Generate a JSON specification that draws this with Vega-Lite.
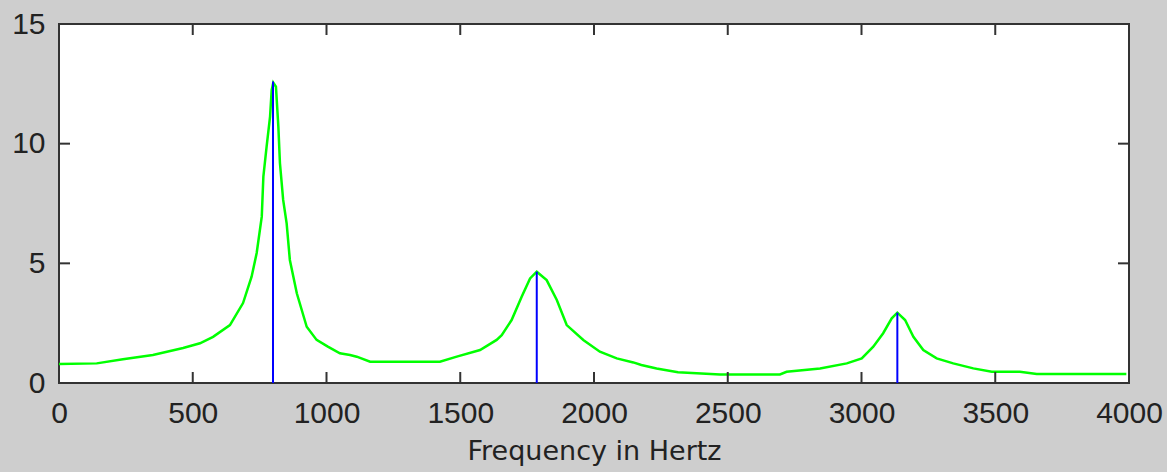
{
  "$schema": "https://vega.github.io/schema/vega-lite/v6.json",
  "width": 1070,
  "height": 359,
  "autosize": {"type": "none"},
  "padding": {"left": 59, "top": 24, "right": 38, "bottom": 89},
  "background": "#cecece",
  "config": {
    "view": {"fill": "white", "stroke": "#333333", "strokeWidth": 2},
    "axis": {
      "domain": false,
      "grid": false,
      "ticks": false,
      "labelFont": "Liberation Sans",
      "labelFontSize": 30,
      "labelColor": "#222222",
      "titleFont": "DejaVu Sans",
      "titleFontSize": 27,
      "titleFontWeight": "normal",
      "titleColor": "#222222"
    }
  },
  "datasets": {
    "curve": [
      {"f": 0, "v": 0.79}, {"f": 141, "v": 0.82}, {"f": 239, "v": 0.99}, {"f": 351, "v": 1.17},
      {"f": 464, "v": 1.46}, {"f": 527, "v": 1.66}, {"f": 576, "v": 1.93}, {"f": 639, "v": 2.42},
      {"f": 688, "v": 3.34}, {"f": 720, "v": 4.44}, {"f": 739, "v": 5.43}, {"f": 758, "v": 6.95},
      {"f": 764, "v": 8.62}, {"f": 776, "v": 9.87}, {"f": 789, "v": 11.13}, {"f": 795, "v": 12.24},
      {"f": 801, "v": 12.55}, {"f": 811, "v": 12.38}, {"f": 820, "v": 10.71}, {"f": 826, "v": 9.18},
      {"f": 838, "v": 7.65}, {"f": 851, "v": 6.67}, {"f": 863, "v": 5.14}, {"f": 889, "v": 3.75},
      {"f": 926, "v": 2.35}, {"f": 963, "v": 1.8}, {"f": 1005, "v": 1.52}, {"f": 1050, "v": 1.24},
      {"f": 1088, "v": 1.17}, {"f": 1113, "v": 1.1}, {"f": 1163, "v": 0.89}, {"f": 1275, "v": 0.89},
      {"f": 1424, "v": 0.89}, {"f": 1487, "v": 1.1}, {"f": 1574, "v": 1.38}, {"f": 1636, "v": 1.8},
      {"f": 1655, "v": 2.0}, {"f": 1692, "v": 2.63}, {"f": 1730, "v": 3.61}, {"f": 1761, "v": 4.37},
      {"f": 1786, "v": 4.65}, {"f": 1823, "v": 4.3}, {"f": 1861, "v": 3.47}, {"f": 1898, "v": 2.42},
      {"f": 1960, "v": 1.8}, {"f": 2022, "v": 1.31}, {"f": 2085, "v": 1.03}, {"f": 2147, "v": 0.86},
      {"f": 2177, "v": 0.75}, {"f": 2234, "v": 0.61}, {"f": 2314, "v": 0.45}, {"f": 2471, "v": 0.36},
      {"f": 2695, "v": 0.36}, {"f": 2720, "v": 0.47}, {"f": 2845, "v": 0.61}, {"f": 2945, "v": 0.82},
      {"f": 3001, "v": 1.03}, {"f": 3044, "v": 1.52}, {"f": 3081, "v": 2.08}, {"f": 3113, "v": 2.7},
      {"f": 3134, "v": 2.94}, {"f": 3163, "v": 2.63}, {"f": 3194, "v": 1.93}, {"f": 3231, "v": 1.38},
      {"f": 3281, "v": 1.03}, {"f": 3343, "v": 0.82}, {"f": 3418, "v": 0.61}, {"f": 3487, "v": 0.47},
      {"f": 3592, "v": 0.47}, {"f": 3655, "v": 0.38}, {"f": 3990, "v": 0.38}
    ],
    "peaks": [
      {"f": 800, "v": 12.6},
      {"f": 1786, "v": 4.65},
      {"f": 3134, "v": 2.94}
    ],
    "xticks": [
      {"t": 500}, {"t": 1000}, {"t": 1500}, {"t": 2000}, {"t": 2500}, {"t": 3000}, {"t": 3500}
    ],
    "yticks": [
      {"t": 5}, {"t": 10}
    ]
  },
  "layer": [
    {
      "data": {"name": "curve"},
      "mark": {"type": "line", "color": "#00ff00", "strokeWidth": 2.5, "clip": true},
      "encoding": {
        "x": {
          "field": "f", "type": "quantitative",
          "scale": {"domain": [0, 4000], "nice": false, "zero": false},
          "axis": {"orient": "bottom", "values": [0, 500, 1000, 1500, 2000, 2500, 3000, 3500, 4000],
                   "format": "d", "labelPadding": 15, "labelFlush": false, "labelOverlap": false,
                   "title": "Frequency in Hertz", "titlePadding": 10}
        },
        "y": {
          "field": "v", "type": "quantitative",
          "scale": {"domain": [0, 15], "nice": false, "zero": false},
          "axis": {"orient": "left", "values": [0, 5, 10, 15], "format": "d", "labelPadding": 14,
                   "labelFlush": false, "labelOverlap": false, "title": null}
        }
      }
    },
    {
      "data": {"name": "peaks"},
      "mark": {"type": "rule", "color": "#0000ff", "strokeWidth": 2},
      "encoding": {
        "x": {"field": "f", "type": "quantitative"},
        "y": {"field": "v", "type": "quantitative"},
        "y2": {"datum": 0}
      }
    },
    {
      "data": {"name": "xticks"},
      "mark": {"type": "tick", "orient": "vertical", "color": "#333333", "size": 22, "thickness": 2, "opacity": 1, "clip": true},
      "encoding": {
        "x": {"field": "t", "type": "quantitative"},
        "y": {"datum": 0, "type": "quantitative"}
      }
    },
    {
      "data": {"name": "xticks"},
      "mark": {"type": "tick", "orient": "vertical", "color": "#333333", "size": 22, "thickness": 2, "opacity": 1, "clip": true},
      "encoding": {
        "x": {"field": "t", "type": "quantitative"},
        "y": {"datum": 15, "type": "quantitative"}
      }
    },
    {
      "data": {"name": "yticks"},
      "mark": {"type": "tick", "orient": "horizontal", "color": "#333333", "size": 22, "thickness": 2, "opacity": 1, "clip": true},
      "encoding": {
        "y": {"field": "t", "type": "quantitative"},
        "x": {"datum": 0, "type": "quantitative"}
      }
    },
    {
      "data": {"name": "yticks"},
      "mark": {"type": "tick", "orient": "horizontal", "color": "#333333", "size": 22, "thickness": 2, "opacity": 1, "clip": true},
      "encoding": {
        "y": {"field": "t", "type": "quantitative"},
        "x": {"datum": 4000, "type": "quantitative"}
      }
    }
  ]
}
